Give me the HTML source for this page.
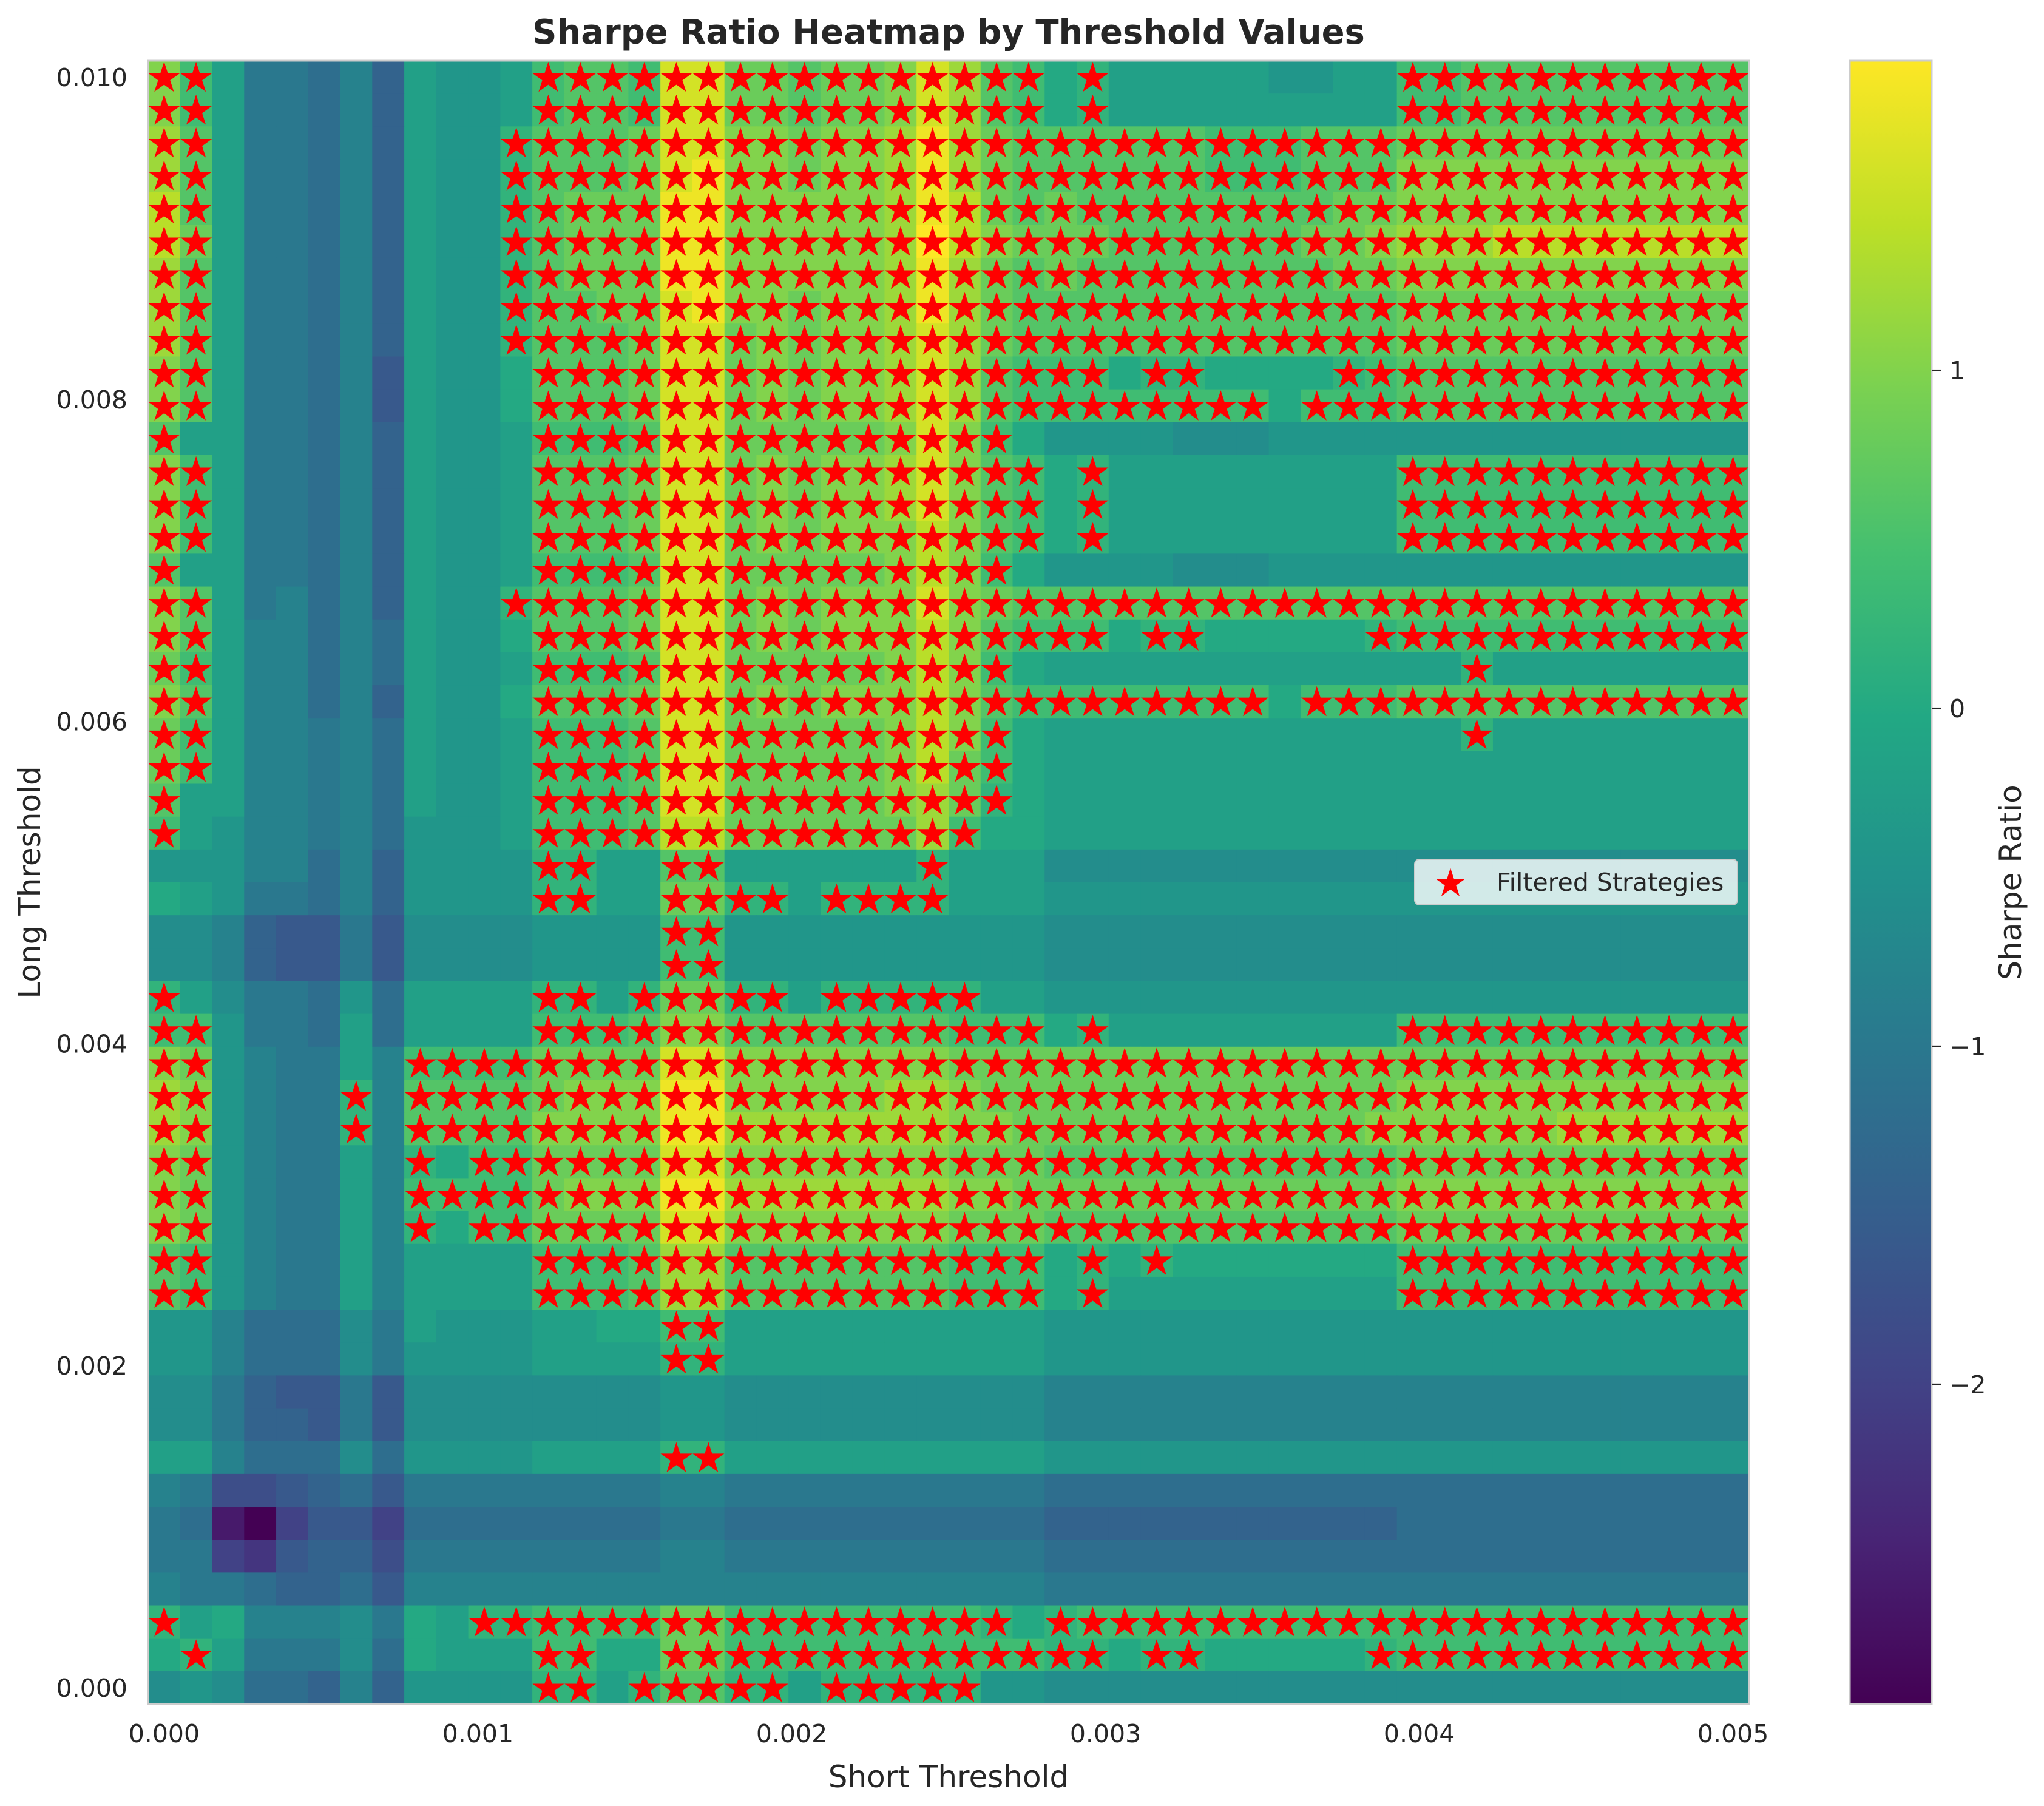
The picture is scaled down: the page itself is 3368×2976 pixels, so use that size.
<!DOCTYPE html>
<html>
<head>
<meta charset="utf-8">
<style>
  html, body { margin: 0; padding: 0; background: #ffffff; }
  svg text { font-family: "DejaVu Sans", "Liberation Sans", sans-serif; fill: #262626; }
</style>
</head>
<body>
<svg id="chart" xmlns="http://www.w3.org/2000/svg" width="3368" height="2971" viewBox="0 0 3368 2971">
  <rect x="0" y="0" width="3368" height="2971" fill="#ffffff"/>
  <text x="1563" y="72" font-size="56" font-weight="bold" text-anchor="middle">Sharpe Ratio Heatmap by Threshold Values</text>
  <g id="cells"></g>
  <g id="stars"></g>
  <rect x="244" y="100" width="2638" height="2708" fill="none" stroke="#cccccc" stroke-width="3"/>
  <g id="xticks"></g>
  <g id="yticks"></g>
  <text x="1563" y="2945" font-size="50" text-anchor="middle">Short Threshold</text>
  <text x="0" y="0" font-size="50" text-anchor="middle" transform="translate(66,1454) rotate(-90)">Long Threshold</text>
  <defs>
    <linearGradient id="viridisGrad" x1="0" y1="1" x2="0" y2="0"></linearGradient>
  </defs>
  <rect x="3048" y="100" width="135" height="2708" fill="url(#viridisGrad)" stroke="#cccccc" stroke-width="3"/>
  <g id="cbticks"></g>
  <text x="0" y="0" font-size="50" text-anchor="middle" transform="translate(3330,1454) rotate(-90)">Sharpe Ratio</text>
  <g>
    <rect x="2331" y="1416" width="532" height="75" rx="8" fill="#ffffff" fill-opacity="0.8" stroke="#cccccc" stroke-width="2"/>
    <g id="legendStar"></g>
    <text x="2466" y="1468" font-size="41">Filtered Strategies</text>
  </g>
</svg>
<script>
// ---- data (rows listed top = 0.010 to bottom = 0.000) ----
const levelChars = "0123456789ABCDEFGHIJKLMNOP"; // value = -3 + idx*0.2
const sharpeRows = [
"KH|EAA9B8EDD|E|HIIH|NN|JJIJJK|N|LIH|FGEEEEEDDEE|HHIIIIIIIII",
"KH|EAA9B8EDD|E|HIIH|NN|JJIJJK|N|LIH|FGEEEEEEEEE|HHIIIIIIIII",
"LI|EAA9B8EDD|G|IIIJ|NN|KKJKKL|O|LJI|IIIIIHHHIII|JJJJJJJJJJJ",
"LI|EAA9B8EDD|G|IIIJ|NO|KKJKKL|O|LJI|IIIIIHHHIII|KKKKKKKKKKK",
"MI|EAA9B8EDD|G|IJJJ|OO|KKKKKL|O|MJI|JIIIIIIIIJJ|KKKKKKKKKKK",
"MJ|EAA9B8EDD|G|IJJJ|OO|KKKKKL|P|MKJ|JJIIIIIIJJK|LLLMMMMMMMM",
"LI|EAA9B8EDD|G|IJJJ|OO|KKKKKL|O|LJI|JIIIIIIIIJJ|KKKKKKKKKKK",
"LI|EAA9B8EDD|G|IIJJ|NO|KKJKKL|O|LJI|IIIIIIIIIII|JJJJJJJJJJJ",
"LI|EAA9B8EDD|G|IIIJ|NN|JKJKKL|N|LJI|IIIIIIIIIII|JJJJJJJJJJJ",
"KI|EAA9B7EDD|F|IIIJ|NN|JKJKKL|N|LIH|HHFGGFFFFGH|IIIIIIIIIII",
"KI|EAA9B7EDD|F|IIIJ|NN|JKJKKL|N|LIH|HHHHHHHFHHH|IIIIIIIIIII",
"IE|EAA9B8EDD|E|HHHI|NN|JJJJJK|N|KHF|DDDDCCCDDDD|DDDDDDDDDDD",
"KH|EAA9B8EDD|E|IIIJ|NN|JKJKKL|N|KIH|FGEEEEEEEEE|HHHHHHHHHHH",
"KH|EAA9B8EDD|E|IIIJ|NN|JKJKKL|N|KIH|FGEEEEEEEEE|HHHHHHHHHHH",
"KH|EAA9B8EDD|E|IIIJ|NN|JKJKKK|M|KIH|FGEEEEEEEEE|HHHHHHHHHHH",
"IE|EAA9B8EDD|E|HHHI|NN|JJJJJK|M|KHF|DDDDCCCDDDD|DDDDDDDDDDD",
"KI|EAB9B8EDD|G|IIIJ|NN|JKJKKK|N|KJI|IIIIIIIIIII|IIIIIIIIIII",
"KI|EBB9B9EDD|F|IIIJ|NN|JKJKKK|M|KIH|HHFGGFFFFFG|HHHHHHHHHHH",
"JH|EBB9B9EDD|E|HHHI|NN|JJJJJK|M|KHF|EEEEEEEEEEE|EEGEEEEEEEE",
"KI|EBB9B8EDD|F|IIIJ|NN|JKJKKK|M|KIH|HHHHHHHFHHH|IIIIIIIIIII",
"JH|EBBAB9EDD|E|HHHI|NN|JJJJJK|M|KHF|EEEEEEEEEEE|EEGEEEEEEEE",
"JH|EBBAB9EDD|E|HHHI|NN|JJJJJK|M|JHF|EEEEEEEEEEE|EEEEEEEEEEE",
"IE|EBBAB9EDD|E|HHHI|NN|JJJJJK|L|JGF|EEEEEEEEEEE|EEEEEEEEEEE",
"HE|DBBAB9DDD|E|HHHI|MM|JJJJJJ|L|HFF|EEEEEEEEEEE|EEEEEEEEEEE",
"DD|DBB9B8DDD|D|GGEE|II|EEEEEE|G|EEE|CCCCCCCCCCC|CCCCCCCCCCC",
"FE|DAA9B8DDD|D|GGEE|JJ|GGEGGG|G|EEE|DDDDDDDDDDD|DDDDDDDDDDD",
"CC|B877A7CCC|C|DDDD|HH|DDDDDD|D|DDD|CCCCCCCCCCC|CCCCCCCCCCC",
"CC|B877A7CCC|C|DDDD|HH|DDDDDD|D|DDD|CCCCCCCCCCC|CCCCCCCCCCC",
"GE|CAA9D9EEE|E|GGEG|JJ|GGEGGG|G|GEE|DDDDDDDDDDD|DDDDDDDDDDD",
"HH|DAA9E9EEE|E|HHHI|KK|IIIIII|I|HHH|FGEEEEEEEEE|HHHHHHHHHHH",
"KJ|DBAAEBHHH|H|JJJJ|NN|KKKKKK|K|JJJ|JJJJJJJJJJJ|JJJJJJJJJJJ",
"LK|DBAAGBIII|I|JKKK|OO|KKKKKL|L|KJJ|JJJJJJJJJJJ|KKKKKKKKKKK",
"LK|DBAAGBIII|I|KKKK|OO|LLLLLL|L|KKJ|JJJJJJJJJJK|KKKKKLLLLLL",
"KJ|DBAAEBGFH|H|JJJJ|NN|KKKKKK|K|JJJ|IIIIIIIIIII|JJJJJJJJJJJ",
"KJ|DBAAEBHHH|H|JKKK|OO|LLLLLL|L|KKJ|JJJJJJJJJJJ|KKKKKKKKKKK",
"KJ|DBAAEBGFH|H|JJJJ|NN|KKKKKK|K|JJJ|IIIIIIIIIII|JJJJJJJJJJJ",
"IH|DBAAEBEEE|E|HHHI|LL|IIIIII|I|HHH|FGFGFFFFFFF|HHHHHHHHHHH",
"IH|DBAAEBEEE|E|HHHI|LL|IIIIII|I|HHH|FGEEEEEEEEE|HHHHHHHHHHH",
"DD|B999CAEDD|D|EEFF|HH|EEEEEE|E|EEE|DDDDDDDDDDD|DDDDDDDDDDD",
"DD|B999CADDD|D|EEEE|GG|EEEEEE|E|EEE|DDDDDDDDDDD|DDDDDDDDDDD",
"CC|A877A7CCC|C|CCCC|DD|CCCCCC|C|CCC|BBBBBBBBBBB|BBBBBBBBBBB",
"CC|A887A7CCC|C|CCCC|DD|CCCCCC|C|CCC|BBBBBBBBBBB|BBBBBBBBBBB",
"EE|B999C9DDD|D|EEEE|GG|EEEEEE|E|EEE|DDDDDDDDDDD|DDDDDDDDDDD",
"BA|667897AAA|A|AAAA|BB|AAAAAA|A|AAA|99999999999|99999999999",
"A9|205775999|9|9999|AA|999999|9|999|88888888888|99999999999",
"AA|547886AAA|A|AAAA|BB|AAAAAA|A|AAA|99999999999|99999999999",
"BA|A98897BBB|B|BBBB|BB|BBBBBB|B|BBB|AAAAAAAAAAA|AAAAAAAAAAA",
"GE|FBBBCAFEG|G|HHHH|JJ|HHHHHH|H|HGF|GHHHHHHHHHH|HHHHHHHHHHH",
"FG|EAAAC9FEE|E|HHFF|JJ|HHHHHH|H|HHH|GGFGGFFFFFG|HHHHHHHHHHH",
"CD|C998B8DDD|D|GGEG|II|GGEGGG|G|GDD|CCCCCCCCCCC|CCCCCCCCCCC"
];
const starRows = [
"0-1,12-27,29,39-49","0-1,12-27,29,39-49",
"0-1,11-49","0-1,11-49","0-1,11-49","0-1,11-49","0-1,11-49","0-1,11-49","0-1,11-49",
"0-1,12-29,31-32,37-49","0-1,12-34,36-49","0,12-26",
"0-1,12-27,29,39-49","0-1,12-27,29,39-49","0-1,12-27,29,39-49",
"0,12-26","0-1,11-49","0-1,12-29,31-32,38-49","0-1,12-26,41","0-1,12-34,36-49",
"0-1,12-26,41","0-1,12-26","0,12-26","0,12-25","12-13,16-17,24","12-13,16-19,21-24",
"16-17","16-17","0,12-13,15-19,21-25","0-1,12-27,29,39-49",
"0-1,8-49","0-1,6,8-49","0-1,6,8-49","0-1,8,10-49","0-1,8-49","0-1,8,10-49",
"0-1,12-27,29,31,39-49","0-1,12-27,29,39-49",
"16-17","16-17","","","16-17","","","","",
"0,10-26,28-49","1,12-13,16-29,31-32,38-49","12-13,15-19,21-25"
];
const xTickValues = [0, 0.001, 0.002, 0.003, 0.004, 0.005];
const xTickLabels = ["0.000", "0.001", "0.002", "0.003", "0.004", "0.005"];
const yTickValues = [0, 0.002, 0.004, 0.006, 0.008, 0.010];
const yTickLabels = ["0.000", "0.002", "0.004", "0.006", "0.008", "0.010"];
const cbTickValues = [1, 0, -1, -2];
const cbTickLabels = ["1", "0", "\u22121", "\u22122"];

// ---- geometry ----
const NS = "http://www.w3.org/2000/svg";
const nCols = 50, nRows = 50;
const plotL = 244, plotR = 2882, plotT = 100, plotB = 2808;
const cellW = (plotR - plotL) / nCols, cellH = (plotB - plotT) / nRows;
const xMax = 0.005, yMax = 0.010;
const vMin = -2.946, vMax = 1.916;
function xScale(v) { return plotL + cellW / 2 + v / xMax * (plotR - plotL - cellW); }
function yScale(v) { return plotB - cellH / 2 - v / yMax * (plotB - plotT - cellH); }
function cbScale(v) { return plotB - (v - vMin) / (vMax - vMin) * (plotB - plotT); }

const viridis = ["#440154","#482475","#414487","#355f8d","#2a788e","#21918c","#22a884","#44bf70","#7ad151","#bddf26","#fde725"];
function hex2rgb(h) { return [parseInt(h.substr(1,2),16), parseInt(h.substr(3,2),16), parseInt(h.substr(5,2),16)]; }
function cmap(t) {
  t = Math.max(0, Math.min(1, t));
  const p = t * (viridis.length - 1), i = Math.min(viridis.length - 2, Math.floor(p)), f = p - i;
  const a = hex2rgb(viridis[i]), b = hex2rgb(viridis[i + 1]);
  return "rgb(" + a.map((v, k) => Math.round(v + (b[k] - v) * f)).join(",") + ")";
}
function parseRanges(s) {
  const out = new Set();
  if (!s) return out;
  s.split(",").forEach(part => {
    const [a, b] = part.split("-").map(Number);
    for (let i = a; i <= (b === undefined ? a : b); i++) out.add(i);
  });
  return out;
}
function starPoints(cx, cy, R) {
  const r = R * 0.381966, pts = [];
  for (let k = 0; k < 10; k++) {
    const ang = -Math.PI / 2 + k * Math.PI / 5, rad = k % 2 === 0 ? R : r;
    pts.push((cx + rad * Math.cos(ang)).toFixed(1) + "," + (cy + rad * Math.sin(ang)).toFixed(1));
  }
  return pts.join(" ");
}

// ---- cells ----
const cellsG = document.getElementById("cells");
const starsG = document.getElementById("stars");
sharpeRows.forEach((rowStr, i) => {
  let s = rowStr.replace(/\|/g, "");
  while (s.length < nCols) s += s[s.length - 1];
  const r = nRows - 1 - i;
  const yVal = r * yMax / (nRows - 1);
  for (let c = 0; c < nCols; c++) {
    const idx = levelChars.indexOf(s[c]);
    const val = -3 + idx * 0.2;
    const xVal = c * xMax / (nCols - 1);
    const rect = document.createElementNS(NS, "rect");
    rect.setAttribute("x", (xScale(xVal) - cellW / 2).toFixed(2));
    rect.setAttribute("y", (yScale(yVal) - cellH / 2).toFixed(2));
    rect.setAttribute("width", (cellW + 0.6).toFixed(2));
    rect.setAttribute("height", (cellH + 0.6).toFixed(2));
    rect.setAttribute("fill", cmap((val - vMin) / (vMax - vMin)));
    
    
    cellsG.appendChild(rect);
  }
  const stars = parseRanges(starRows[i]);
  stars.forEach(c => {
    const xVal = c * xMax / (nCols - 1);
    const poly = document.createElementNS(NS, "polygon");
    poly.setAttribute("points", starPoints(xScale(xVal), yScale(yVal) + 2, 25));
    poly.setAttribute("fill", "#ff0000");
    poly.setAttribute("stroke", "#ff0000");
    poly.setAttribute("stroke-width", "1.5");
    
    
    starsG.appendChild(poly);
  });
});

// ---- axes ticks ----
const xg = document.getElementById("xticks");
xTickValues.forEach((v, i) => {
  const t = document.createElementNS(NS, "text");
  t.setAttribute("x", xScale(v).toFixed(1));
  t.setAttribute("y", "2871");
  t.setAttribute("font-size", "41");
  t.setAttribute("text-anchor", "middle");
  t.textContent = xTickLabels[i];
  
  
  xg.appendChild(t);
});
const yg = document.getElementById("yticks");
yTickValues.forEach((v, i) => {
  const t = document.createElementNS(NS, "text");
  t.setAttribute("x", "210");
  t.setAttribute("y", (yScale(v) + 15).toFixed(1));
  t.setAttribute("font-size", "41");
  t.setAttribute("text-anchor", "end");
  t.textContent = yTickLabels[i];
  
  
  yg.appendChild(t);
});

// ---- colorbar ----
const grad = document.getElementById("viridisGrad");
viridis.forEach((col, i) => {
  const st = document.createElementNS(NS, "stop");
  st.setAttribute("offset", (i / (viridis.length - 1)).toFixed(3));
  st.setAttribute("stop-color", col);
  grad.appendChild(st);
});
const cbg = document.getElementById("cbticks");
cbTickValues.forEach((v, i) => {
  const y = cbScale(v);
  const ln = document.createElementNS(NS, "line");
  ln.setAttribute("x1", "3183"); ln.setAttribute("x2", "3198");
  ln.setAttribute("y1", y.toFixed(1)); ln.setAttribute("y2", y.toFixed(1));
  ln.setAttribute("stroke", "#262626"); ln.setAttribute("stroke-width", "2.5");
  
  
  cbg.appendChild(ln);
  const t = document.createElementNS(NS, "text");
  t.setAttribute("x", "3212");
  t.setAttribute("y", (y + 15).toFixed(1));
  t.setAttribute("font-size", "41");
  t.textContent = cbTickLabels[i];
  
  
  cbg.appendChild(t);
});

// ---- legend marker ----
const lp = document.createElementNS(NS, "polygon");
lp.setAttribute("points", starPoints(2390, 1456, 24));
lp.setAttribute("fill", "#ff0000");
lp.setAttribute("stroke", "#ff0000");


document.getElementById("legendStar").appendChild(lp);
</script>
</body>
</html>
